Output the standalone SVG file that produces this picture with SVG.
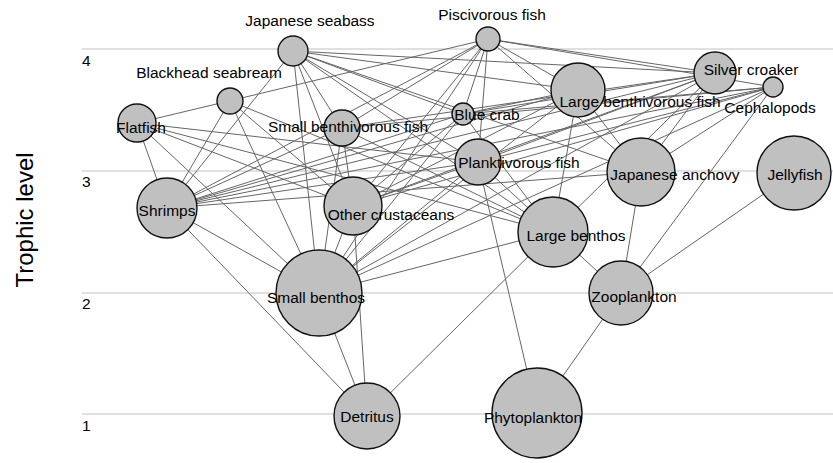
<svg xmlns="http://www.w3.org/2000/svg" width="833" height="463" viewBox="0 0 833 463">
<style>
.grid{stroke:#d6d6d6;stroke-width:1.5}
.tick{font-family:"Liberation Sans",Arial,sans-serif;font-size:15.5px;fill:#000}
.title{font-family:"Liberation Sans",Arial,sans-serif;font-size:24px;fill:#000}
#edges line{stroke:#666666;stroke-width:1}
.node circle{fill:#c0c0c0;stroke:#111111;stroke-width:1.4}
.node text{font-family:"Liberation Sans",Arial,sans-serif;font-size:15.5px;fill:#000;text-anchor:middle}
</style>
<rect width="833" height="463" fill="#ffffff"/>
<g id="axis">
<line class="grid" x1="82" y1="49" x2="833" y2="49"/>
<line class="grid" x1="82" y1="171" x2="833" y2="171"/>
<line class="grid" x1="82" y1="293" x2="833" y2="293"/>
<line class="grid" x1="82" y1="414" x2="833" y2="414"/>
<text class="tick" x="82" y="66">4</text>
<text class="tick" x="82" y="187">3</text>
<text class="tick" x="82" y="309">2</text>
<text class="tick" x="82" y="431">1</text>
<text class="title" transform="translate(33,220) rotate(-90)" text-anchor="middle">Trophic level</text>
</g>
<g id="edges">
<line x1="293" y1="51" x2="715" y2="73"/>
<line x1="293" y1="51" x2="578" y2="90"/>
<line x1="293" y1="51" x2="463" y2="114"/>
<line x1="293" y1="51" x2="641" y2="172"/>
<line x1="293" y1="51" x2="478" y2="162"/>
<line x1="293" y1="51" x2="342" y2="128"/>
<line x1="293" y1="51" x2="353" y2="206"/>
<line x1="293" y1="51" x2="319" y2="293"/>
<line x1="293" y1="51" x2="167" y2="208"/>
<line x1="293" y1="51" x2="553" y2="232"/>
<line x1="488" y1="39" x2="137" y2="123"/>
<line x1="488" y1="39" x2="167" y2="208"/>
<line x1="488" y1="39" x2="342" y2="128"/>
<line x1="488" y1="39" x2="353" y2="206"/>
<line x1="488" y1="39" x2="463" y2="114"/>
<line x1="488" y1="39" x2="478" y2="162"/>
<line x1="488" y1="39" x2="578" y2="90"/>
<line x1="488" y1="39" x2="641" y2="172"/>
<line x1="488" y1="39" x2="715" y2="73"/>
<line x1="488" y1="39" x2="773" y2="87"/>
<line x1="488" y1="39" x2="319" y2="293"/>
<line x1="230" y1="101" x2="167" y2="208"/>
<line x1="230" y1="101" x2="319" y2="293"/>
<line x1="230" y1="101" x2="353" y2="206"/>
<line x1="230" y1="101" x2="553" y2="232"/>
<line x1="137" y1="123" x2="167" y2="208"/>
<line x1="137" y1="123" x2="353" y2="206"/>
<line x1="137" y1="123" x2="319" y2="293"/>
<line x1="137" y1="123" x2="553" y2="232"/>
<line x1="137" y1="123" x2="478" y2="162"/>
<line x1="342" y1="128" x2="167" y2="208"/>
<line x1="342" y1="128" x2="353" y2="206"/>
<line x1="342" y1="128" x2="319" y2="293"/>
<line x1="342" y1="128" x2="553" y2="232"/>
<line x1="167" y1="208" x2="319" y2="293"/>
<line x1="167" y1="208" x2="367" y2="416"/>
<line x1="353" y1="206" x2="319" y2="293"/>
<line x1="353" y1="206" x2="367" y2="416"/>
<line x1="319" y1="293" x2="367" y2="416"/>
<line x1="463" y1="114" x2="167" y2="208"/>
<line x1="463" y1="114" x2="353" y2="206"/>
<line x1="463" y1="114" x2="319" y2="293"/>
<line x1="463" y1="114" x2="553" y2="232"/>
<line x1="578" y1="90" x2="167" y2="208"/>
<line x1="578" y1="90" x2="353" y2="206"/>
<line x1="578" y1="90" x2="319" y2="293"/>
<line x1="578" y1="90" x2="553" y2="232"/>
<line x1="578" y1="90" x2="463" y2="114"/>
<line x1="578" y1="90" x2="641" y2="172"/>
<line x1="715" y1="73" x2="167" y2="208"/>
<line x1="715" y1="73" x2="353" y2="206"/>
<line x1="715" y1="73" x2="319" y2="293"/>
<line x1="715" y1="73" x2="342" y2="128"/>
<line x1="715" y1="73" x2="478" y2="162"/>
<line x1="715" y1="73" x2="641" y2="172"/>
<line x1="715" y1="73" x2="553" y2="232"/>
<line x1="715" y1="73" x2="463" y2="114"/>
<line x1="773" y1="87" x2="167" y2="208"/>
<line x1="773" y1="87" x2="353" y2="206"/>
<line x1="773" y1="87" x2="319" y2="293"/>
<line x1="773" y1="87" x2="342" y2="128"/>
<line x1="773" y1="87" x2="478" y2="162"/>
<line x1="773" y1="87" x2="641" y2="172"/>
<line x1="773" y1="87" x2="621" y2="293"/>
<line x1="773" y1="87" x2="463" y2="114"/>
<line x1="478" y1="162" x2="353" y2="206"/>
<line x1="478" y1="162" x2="621" y2="293"/>
<line x1="478" y1="162" x2="537" y2="413"/>
<line x1="478" y1="162" x2="167" y2="208"/>
<line x1="478" y1="162" x2="319" y2="293"/>
<line x1="641" y1="172" x2="621" y2="293"/>
<line x1="641" y1="172" x2="167" y2="208"/>
<line x1="794" y1="173" x2="621" y2="293"/>
<line x1="553" y1="232" x2="319" y2="293"/>
<line x1="553" y1="232" x2="367" y2="416"/>
<line x1="621" y1="293" x2="537" y2="413"/>
</g>
<g id="n-japanese-seabass" class="node"><circle cx="293" cy="51" r="15"/><text x="310" y="26">Japanese seabass</text></g>
<g id="n-piscivorous-fish" class="node"><circle cx="488" cy="39" r="12"/><text x="492" y="20">Piscivorous fish</text></g>
<g id="n-blackhead-seabream" class="node"><circle cx="230" cy="101" r="13"/><text x="209" y="78">Blackhead seabream</text></g>
<g id="n-flatfish" class="node"><circle cx="137" cy="123" r="19"/><text x="141" y="133">Flatfish</text></g>
<g id="n-small-benthivorous-fish" class="node"><circle cx="342" cy="128" r="18"/><text x="348" y="132">Small benthivorous fish</text></g>
<g id="n-blue-crab" class="node"><circle cx="463" cy="114" r="11"/><text x="487" y="120">Blue crab</text></g>
<g id="n-large-benthivorous-fish" class="node"><circle cx="578" cy="90" r="27"/><text x="640" y="107">Large benthivorous fish</text></g>
<g id="n-silver-croaker" class="node"><circle cx="715" cy="73" r="21"/><text x="751" y="75">Silver croaker</text></g>
<g id="n-cephalopods" class="node"><circle cx="773" cy="87" r="10"/><text x="770" y="113">Cephalopods</text></g>
<g id="n-planktivorous-fish" class="node"><circle cx="478" cy="162" r="23"/><text x="519" y="168">Planktivorous fish</text></g>
<g id="n-japanese-anchovy" class="node"><circle cx="641" cy="172" r="34"/><text x="675" y="180">Japanese anchovy</text></g>
<g id="n-jellyfish" class="node"><circle cx="794" cy="173" r="37"/><text x="795" y="180">Jellyfish</text></g>
<g id="n-shrimps" class="node"><circle cx="167" cy="208" r="30"/><text x="167" y="216">Shrimps</text></g>
<g id="n-other-crustaceans" class="node"><circle cx="353" cy="206" r="29"/><text x="391" y="220">Other crustaceans</text></g>
<g id="n-large-benthos" class="node"><circle cx="553" cy="232" r="35"/><text x="576" y="241">Large benthos</text></g>
<g id="n-zooplankton" class="node"><circle cx="621" cy="293" r="32"/><text x="634" y="302">Zooplankton</text></g>
<g id="n-small-benthos" class="node"><circle cx="319" cy="293" r="43"/><text x="316" y="303">Small benthos</text></g>
<g id="n-detritus" class="node"><circle cx="367" cy="416" r="33"/><text x="367" y="422">Detritus</text></g>
<g id="n-phytoplankton" class="node"><circle cx="537" cy="413" r="45"/><text x="533" y="423">Phytoplankton</text></g>
</svg>
